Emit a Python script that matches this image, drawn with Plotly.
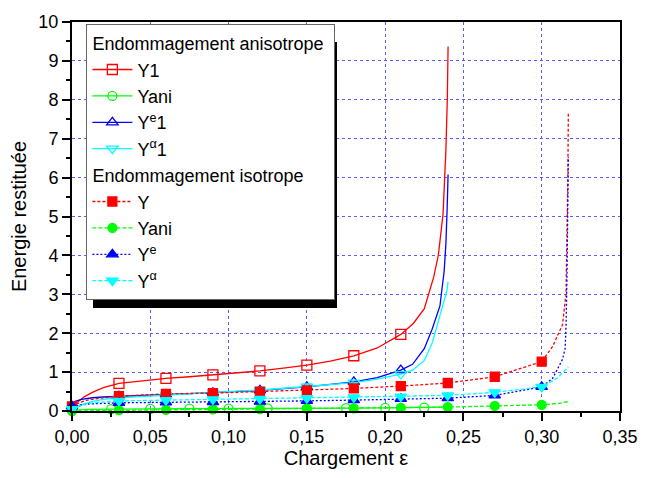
import plotly.graph_objects as go

# ---------------- data ----------------
# Anisotropic damage (solid lines)
y1_line_x = [0.0, 0.004, 0.008, 0.013, 0.02, 0.03, 0.045, 0.06, 0.075, 0.09, 0.105, 0.12, 0.135,
             0.15, 0.165, 0.18, 0.195, 0.21, 0.218, 0.225, 0.231, 0.234, 0.237, 0.2388, 0.2397, 0.2402]
y1_line_y = [0.12, 0.25, 0.37, 0.48, 0.60, 0.71, 0.78, 0.84, 0.88, 0.93, 0.98, 1.03, 1.10,
             1.18, 1.28, 1.42, 1.62, 1.97, 2.25, 2.63, 3.44, 4.01, 5.07, 6.70, 8.0, 9.37]
y1_mark_x = [0.03, 0.06, 0.09, 0.12, 0.15, 0.18, 0.21]
y1_mark_y = [0.71, 0.84, 0.93, 1.03, 1.18, 1.42, 1.97]

yani_a_line_x = [0.0, 0.005, 0.01, 0.025, 0.05, 0.075, 0.10, 0.125, 0.15, 0.175, 0.20, 0.225, 0.235, 0.24]
yani_a_line_y = [0.0, 0.03, 0.04, 0.05, 0.055, 0.06, 0.06, 0.065, 0.07, 0.075, 0.08, 0.085, 0.09, 0.10]
yani_a_mark_x = [0.025, 0.05, 0.075, 0.10, 0.125, 0.15, 0.175, 0.20, 0.225]
yani_a_mark_y = [0.05, 0.055, 0.06, 0.06, 0.065, 0.07, 0.075, 0.08, 0.085]

ye1_line_x = [0.0, 0.002, 0.006, 0.013, 0.02, 0.03, 0.045, 0.06, 0.09, 0.12, 0.15, 0.18, 0.195,
              0.21, 0.2175, 0.225, 0.23, 0.235, 0.2377, 0.2388, 0.2396, 0.2402]
ye1_line_y = [0.18, 0.25, 0.30, 0.34, 0.36, 0.38, 0.40, 0.42, 0.47, 0.53, 0.62, 0.75, 0.86,
              1.05, 1.20, 1.60, 2.10, 2.70, 3.60, 4.30, 5.20, 6.08]
ye1_mark_x = [0.03, 0.06, 0.09, 0.12, 0.15, 0.18, 0.21]
ye1_mark_y = [0.38, 0.42, 0.47, 0.53, 0.62, 0.75, 1.05]

ya1_line_x = [0.0, 0.005, 0.013, 0.02, 0.03, 0.06, 0.09, 0.12, 0.15, 0.18, 0.195, 0.21, 0.2175,
              0.225, 0.23, 0.236, 0.2395, 0.2402]
ya1_line_y = [0.05, 0.15, 0.25, 0.30, 0.34, 0.41, 0.47, 0.54, 0.63, 0.73, 0.82, 0.95, 1.05,
              1.30, 1.74, 2.63, 3.10, 3.32]
ya1_mark_x = [0.03, 0.06, 0.09, 0.12, 0.15, 0.18, 0.21]
ya1_mark_y = [0.34, 0.41, 0.47, 0.54, 0.63, 0.73, 0.95]

# Isotropic damage (dashed / dotted lines)
yi_line_x = [0.0, 0.005, 0.01, 0.02, 0.03, 0.06, 0.09, 0.12, 0.15, 0.18, 0.21, 0.24, 0.27, 0.30,
             0.307, 0.3133, 0.3155, 0.3162, 0.3167, 0.317]
yi_line_y = [0.12, 0.22, 0.28, 0.34, 0.38, 0.44, 0.46, 0.50, 0.53, 0.58, 0.64, 0.72, 0.88, 1.27,
             1.66, 2.22, 3.0, 4.5, 6.0, 7.67]
yi_mark_x = [0.0, 0.03, 0.06, 0.09, 0.12, 0.15, 0.18, 0.21, 0.24, 0.27, 0.30]
yi_mark_y = [0.12, 0.38, 0.44, 0.46, 0.50, 0.53, 0.58, 0.64, 0.72, 0.88, 1.27]

yani_i_line_x = [0.0, 0.03, 0.06, 0.09, 0.12, 0.15, 0.18, 0.21, 0.24, 0.27, 0.30, 0.31, 0.317]
yani_i_line_y = [0.0, 0.02, 0.03, 0.04, 0.05, 0.06, 0.07, 0.08, 0.10, 0.13, 0.16, 0.19, 0.24]
yani_i_mark_x = [0.0, 0.03, 0.06, 0.09, 0.12, 0.15, 0.18, 0.21, 0.24, 0.27, 0.30]
yani_i_mark_y = [0.0, 0.02, 0.03, 0.04, 0.05, 0.06, 0.07, 0.08, 0.10, 0.13, 0.16]

yei_line_x = [0.0, 0.01, 0.03, 0.06, 0.09, 0.12, 0.15, 0.18, 0.21, 0.24, 0.27, 0.30, 0.307,
              0.3133, 0.315, 0.3156, 0.3162, 0.3168, 0.317]
yei_line_y = [0.12, 0.18, 0.21, 0.22, 0.23, 0.24, 0.26, 0.28, 0.31, 0.33, 0.40, 0.62, 0.84,
              1.33, 1.62, 2.27, 3.6, 5.0, 6.53]
yei_mark_x = [0.0, 0.03, 0.06, 0.09, 0.12, 0.15, 0.18, 0.21, 0.24, 0.27, 0.30]
yei_mark_y = [0.12, 0.21, 0.22, 0.23, 0.24, 0.26, 0.28, 0.31, 0.33, 0.40, 0.62]

yai_line_x = [0.0, 0.01, 0.03, 0.06, 0.09, 0.12, 0.15, 0.18, 0.21, 0.24, 0.27, 0.30, 0.31, 0.317]
yai_line_y = [0.05, 0.20, 0.26, 0.28, 0.30, 0.31, 0.33, 0.35, 0.37, 0.40, 0.48, 0.62, 0.85, 1.13]
yai_mark_x = [0.0, 0.03, 0.06, 0.09, 0.12, 0.15, 0.18, 0.21, 0.24, 0.27, 0.30]
yai_mark_y = [0.05, 0.26, 0.28, 0.30, 0.31, 0.33, 0.35, 0.37, 0.40, 0.48, 0.62]

x_tick_vals = [0.0, 0.05, 0.10, 0.15, 0.20, 0.25, 0.30, 0.35]
x_tick_text = ["0,00", "0,05", "0,10", "0,15", "0,20", "0,25", "0,30", "0,35"]
y_tick_vals = [0, 1, 2, 3, 4, 5, 6, 7, 8, 9, 10]

# ---------------- figure ----------------
FONT = "Liberation Sans, Arial, sans-serif"
fig = go.Figure()

series = [
    # name, group, group title, lx, ly, mx, my, color, dash, symbol, msize
    ("Y1", "aniso", "Endommagement anisotrope", y1_line_x, y1_line_y, y1_mark_x, y1_mark_y,
     "#ff0000", "solid", "square-open", 10),
    ("Yani", "aniso", "Endommagement anisotrope", yani_a_line_x, yani_a_line_y, yani_a_mark_x, yani_a_mark_y,
     "#00ff00", "solid", "circle-open", 9),
    ("Y<sup>e</sup>1", "aniso", "Endommagement anisotrope", ye1_line_x, ye1_line_y, ye1_mark_x, ye1_mark_y,
     "#0000ff", "solid", "triangle-up-open", 10),
    ("Y<sup>α</sup>1", "aniso", "Endommagement anisotrope", ya1_line_x, ya1_line_y, ya1_mark_x, ya1_mark_y,
     "#00ffff", "solid", "triangle-down-open", 10),
    ("Y", "iso", "Endommagement isotrope", yi_line_x, yi_line_y, yi_mark_x, yi_mark_y,
     "#ff0000", "3px,2px", "square", 9),
    ("Yani", "iso", "Endommagement isotrope", yani_i_line_x, yani_i_line_y, yani_i_mark_x, yani_i_mark_y,
     "#00ff00", "4px,2px", "circle", 9),
    ("Y<sup>e</sup>", "iso", "Endommagement isotrope", yei_line_x, yei_line_y, yei_mark_x, yei_mark_y,
     "#0000ff", "2px,2px", "triangle-up", 10),
    ("Y<sup>α</sup>", "iso", "Endommagement isotrope", yai_line_x, yai_line_y, yai_mark_x, yai_mark_y,
     "#00ffff", "4px,2px", "triangle-down", 10),
]

for name, grp, gtitle, lx, ly, mx, my, col, dash, sym, ms in series:
    fig.add_trace(go.Scatter(x=lx, y=ly, mode="lines", line=dict(color=col, width=1.3, dash=dash),
                             showlegend=False, hoverinfo="skip"))
for name, grp, gtitle, lx, ly, mx, my, col, dash, sym, ms in series:
    fig.add_trace(go.Scatter(x=mx, y=my, mode="markers", cliponaxis=False,
                             marker=dict(symbol=sym, size=ms, color=col, line=dict(color=col, width=1.3)),
                             showlegend=False))
for name, grp, gtitle, lx, ly, mx, my, col, dash, sym, ms in series:
    fig.add_trace(go.Scatter(x=[None], y=[None], mode="lines+markers", name=name,
                             legendgroup=grp,
                             legendgrouptitle=dict(text=gtitle, font=dict(family=FONT, size=18, color="black")),
                             line=dict(color=col, width=1.3, dash=dash),
                             marker=dict(symbol=sym, size=ms, color=col, line=dict(color=col, width=1.3))))

# legend drop shadow, drawn in pixel units relative to the plot area's top-left corner
fig.add_shape(type="rect", xref="x", yref="y", layer="above",
              xsizemode="pixel", ysizemode="pixel", xanchor=0, yanchor=10,
              x0=21, x1=265, y0=-20, y1=-286,
              fillcolor="black", line=dict(width=0))

axis_common = dict(showline=True, linecolor="black", linewidth=2, mirror=True,
                   ticks="outside", ticklen=8, tickwidth=1.5, tickcolor="black",
                   showgrid=True, gridcolor="#5a5aff", gridwidth=1, griddash="dot",
                   zeroline=False, tickfont=dict(family=FONT, size=18, color="black"))

fig.update_xaxes(range=[0, 0.35], tickmode="array", tickvals=x_tick_vals, ticktext=x_tick_text,
                 minor=dict(dtick=0.025, tick0=0, ticks="outside", ticklen=4, tickcolor="black", showgrid=False),
                 title=dict(text="Chargement ε", font=dict(family=FONT, size=20, color="black"), standoff=5),
                 **axis_common)
fig.update_yaxes(range=[0, 10], tickmode="array", tickvals=y_tick_vals,
                 minor=dict(dtick=0.5, tick0=0, ticks="outside", ticklen=4, tickcolor="black", showgrid=False),
                 title=dict(text="Energie restituée", font=dict(family=FONT, size=20, color="black"), standoff=6),
                 **axis_common)

fig.update_layout(
    width=650, height=478,
    margin=dict(l=72, r=18, t=17, b=50),
    paper_bgcolor="white", plot_bgcolor="white",
    font=dict(family=FONT, size=18, color="black"),
    legend=dict(x=(86.7 - 72) / 560, y=(428 - 19) / 411, xanchor="left", yanchor="top",
                bgcolor="white", bordercolor="#666666", borderwidth=1,
                font=dict(family=FONT, size=18, color="black"),
                traceorder="grouped", tracegroupgap=0, itemwidth=40),
)

fig.write_html("out.html")
